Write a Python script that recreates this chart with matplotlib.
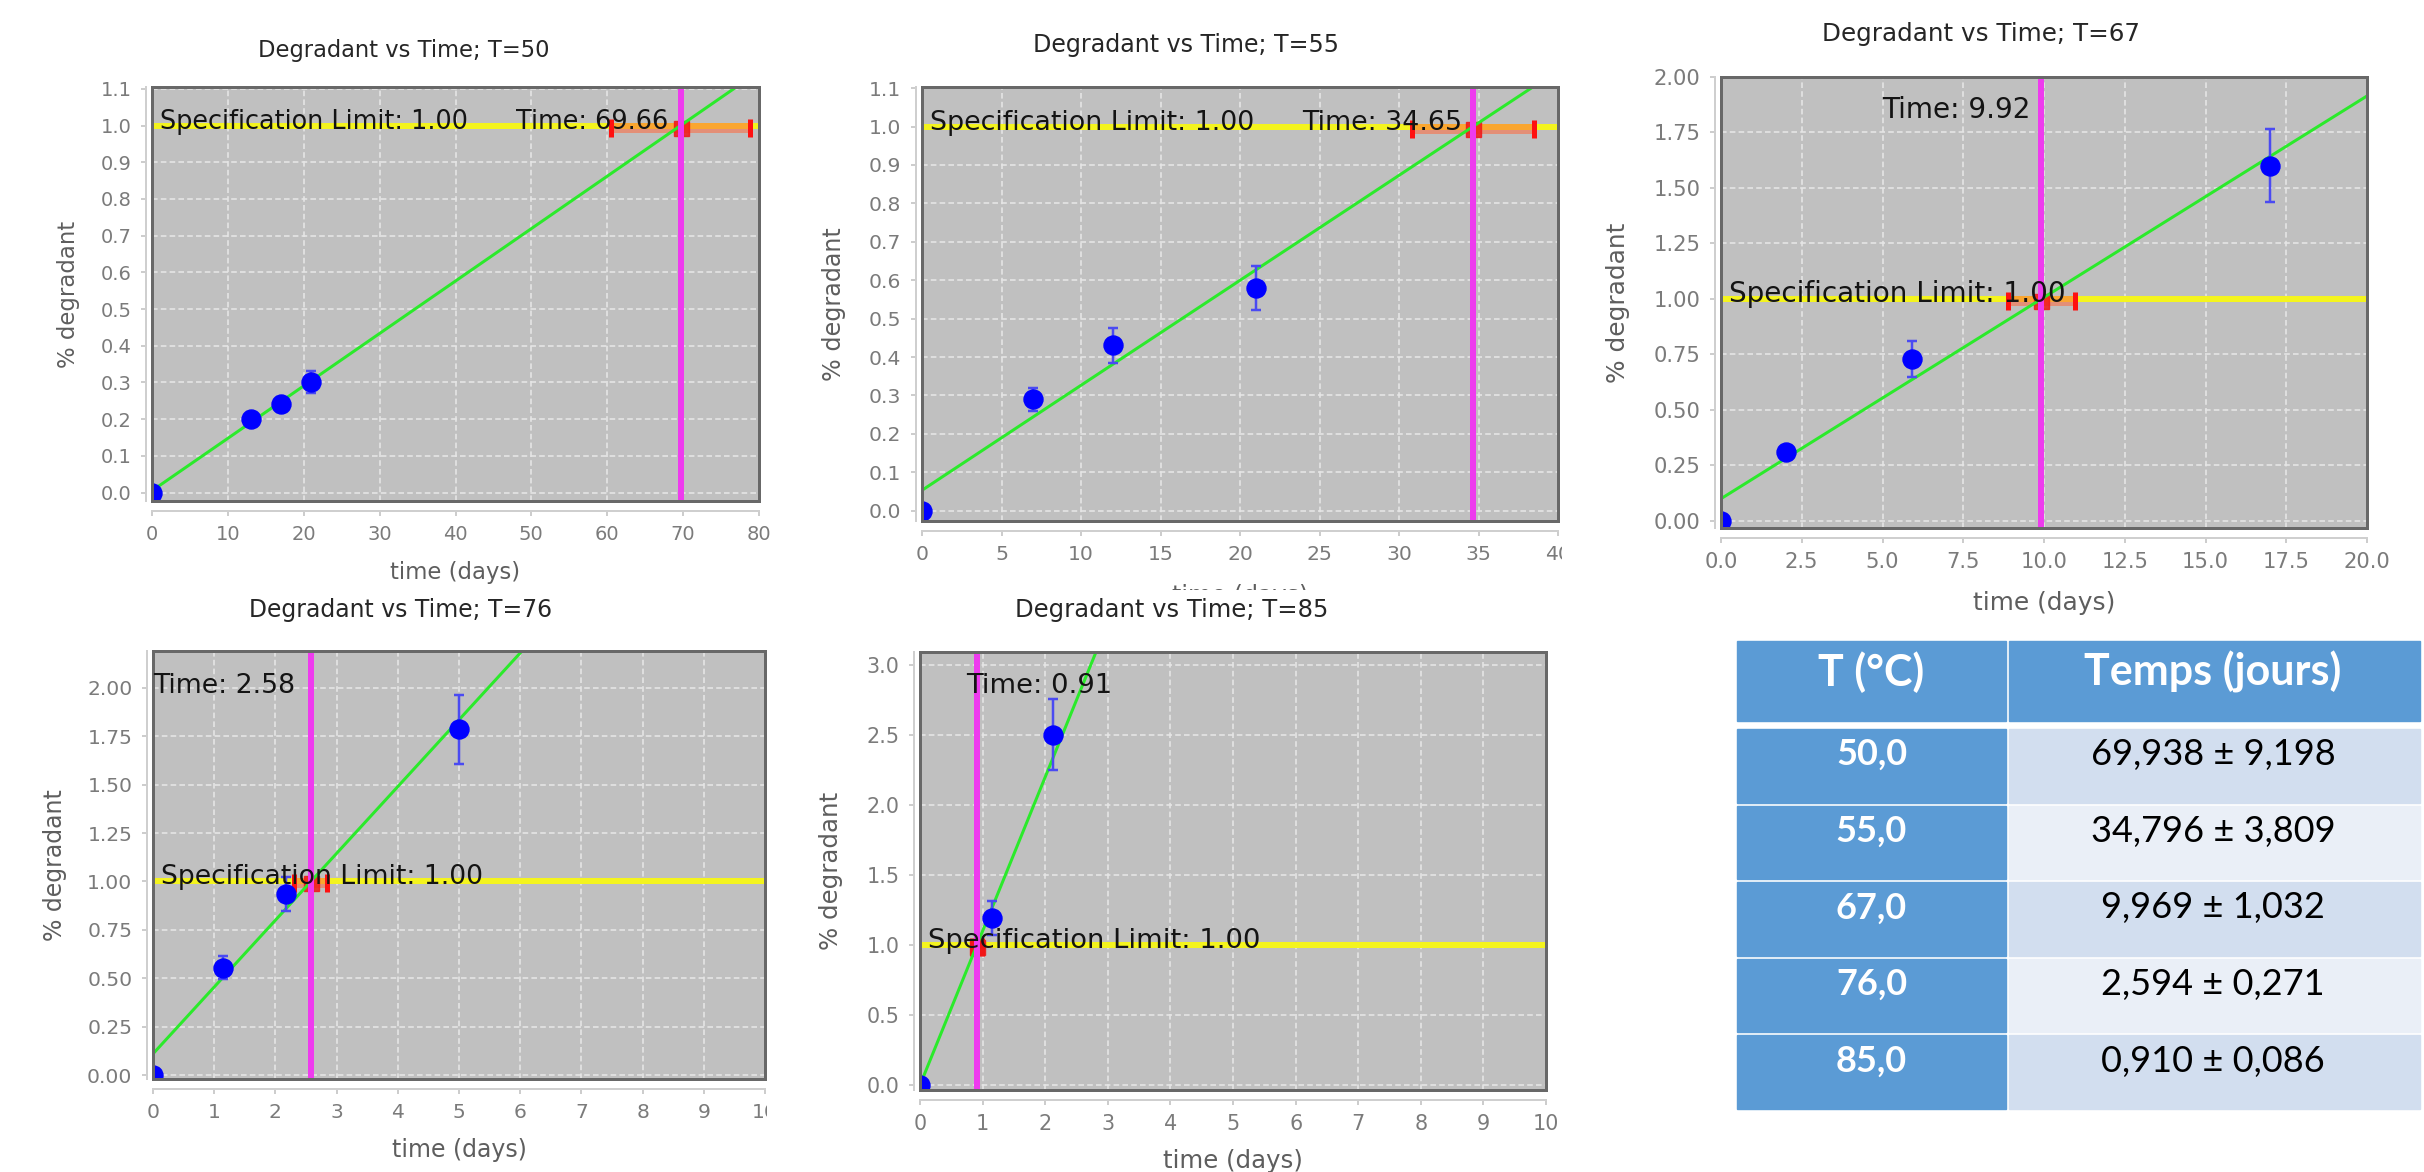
import numpy as np
import matplotlib.pyplot as plt
from matplotlib.patches import Rectangle
from matplotlib.ticker import FormatStrFormatter
from matplotlib.transforms import Bbox, offset_copy

W, H = 2424, 1172
PX = 0.72  # points per pixel (dpi 100)

# ---- values ----
temps = [50, 55, 67, 76, 85]
days = [[0, 13, 17, 21],
        [0, 7, 12, 21],
        [0, 2, 5.9, 17],
        [0, 1.15, 2.17, 5.0],
        [0, 1.15, 2.13]]
degradant = [[0.0, 0.20, 0.24, 0.30],
             [0.0, 0.29, 0.43, 0.58],
             [0.0, 0.31, 0.73, 1.60],
             [0.0, 0.555, 0.935, 1.785],
             [0.0, 1.19, 2.50]]
degradant_err = [[0, 0.02, 0.02, 0.03],
                 [0, 0.03, 0.045, 0.058],
                 [0, 0.02, 0.08, 0.165],
                 [0, 0.06, 0.09, 0.18],
                 [0, 0.12, 0.255]]
fit_intercept = [0.005, 0.053, 0.10, 0.11, 0.0]
spec_limit = 1.0
time_at_limit = [69.66, 34.65, 9.92, 2.58, 0.91]
time_ci = [9.2, 3.81, 1.03, 0.27, 0.086]
x_max = [80, 40, 20, 10, 10]
x_step = [10, 5, 2.5, 1, 1]
y_max = [1.1, 1.1, 2.0, 2.0, 3.0]
y_step = [0.1, 0.1, 0.25, 0.25, 0.5]

tab_temp = [50.0, 55.0, 67.0, 76.0, 85.0]
tab_time = [69.938, 34.796, 9.969, 2.594, 0.910]
tab_err = [9.198, 3.809, 1.032, 0.271, 0.086]

# ---- layout (pixels of the final picture) ----
boxes = [(152, 87, 759, 501), (922, 87, 1558, 521), (1721, 77, 2367, 528),
         (153, 651, 765, 1079), (920, 652, 1546, 1090)]
y_low = [-0.023, -0.027, -0.032, -0.02, -0.035]
y_top = [1.105, 1.103, 2.0, 2.19, 3.09]
xfmt = ['%d', '%d', '%.1f', '%d', '%d']
yfmt = ['%.1f', '%.1f', '%.2f', '%.2f', '%.1f']
fscale = [1.0, 1.05, 1.09, 1.04, 1.07]
title_pos = [(404, 50), (1186, 45), (1981, 34), (401, 610), (1172, 610)]
ylabel_x = [69, 834, 1618, 55, 831]
xlabel_y = [573, 596, 603, 1150, 1161]
time_txt = [(68.0, 1.0, 'right'), (33.98, 1.0, 'right'), (9.59, 1.83, 'right'),
            (0.0, 1.99, 'left'), (0.73, 2.82, 'left')]
xtick_cut = {1: 1562, 3: 767}

fig = plt.figure(figsize=(W / 100, H / 100), dpi=100)
fig.patch.set_facecolor('white')
canvas = fig.add_axes([0, 0, 1, 1])
canvas.set_xlim(0, W)
canvas.set_ylim(H, 0)
canvas.axis('off')

for i in range(5):
    L, T, R, B = boxes[i]
    s = fscale[i]
    ax = fig.add_axes([L / W, 1 - B / H, (R - L) / W, (B - T) / H])
    ax.set_facecolor('#C0C0C0')
    ax.set_xlim(0, x_max[i])
    ax.set_ylim(y_low[i], y_top[i])
    ax.set_xticks(np.arange(0, x_max[i] + 1e-9, x_step[i]))
    ax.set_yticks(np.arange(0, y_max[i] + 1e-9, y_step[i]))
    ax.xaxis.set_major_formatter(FormatStrFormatter(xfmt[i]))
    ax.yaxis.set_major_formatter(FormatStrFormatter(yfmt[i]))
    ax.set_axisbelow(True)
    ax.grid(True, color='#E6E6E6', lw=1.6 * PX, ls=(0, (3.5, 2)))

    for side in ['top', 'right']:
        ax.spines[side].set_visible(False)
    ax.spines['left'].set_position(('outward', 6 * PX))
    ax.spines['bottom'].set_position(('outward', 10 * PX))
    for side in ['left', 'bottom']:
        ax.spines[side].set_color('#CFCFCF')
        ax.spines[side].set_linewidth(2 * PX)
    ax.tick_params(direction='out', length=5 * PX, width=1.5 * PX, color='#BDBDBD',
                   labelsize=14 * s, labelcolor='#7B7B7B', pad=9.5 * PX)

    t = time_at_limit[i]
    ci = time_ci[i]
    a = fit_intercept[i]
    slope = (spec_limit - a) / t
    xs = np.array([0, x_max[i]])

    ax.axhline(spec_limit, color='#F4F41E', lw=6 * PX, zorder=2.5)
    tr = offset_copy(ax.transData, fig=fig, y=-2, units='dots')
    ax.plot([t - ci, t + ci], [spec_limit, spec_limit], color='#FF6A3F', alpha=0.56,
            lw=10 * PX, solid_capstyle='butt', transform=tr, zorder=3)
    ax.plot([t - ci, t + ci], [spec_limit, spec_limit], ls='none', marker='|',
            ms=18 * PX, mew=5 * PX, color='#FF1010', transform=tr, zorder=3.2)
    ax.plot([t], [spec_limit], ls='none', marker='s', ms=15 * PX, color='#F01818',
            alpha=0.85, transform=tr, zorder=3.3)
    ax.plot(xs, a + slope * xs, color='#2BEA2B', lw=3 * PX, zorder=4)
    ax.axvline(t, color='#EE3BEE', lw=6 * PX, zorder=5)

    ax.errorbar(days[i], degradant[i], yerr=degradant_err[i], fmt='none',
                ecolor='#4A4AF2', elinewidth=2.5 * PX, capsize=5 * PX,
                capthick=2.5 * PX, zorder=6)
    ax.plot(days[i], degradant[i], 'o', color='#0000FF', ms=19 * PX, zorder=7)

    ax.add_patch(Rectangle((0, 0), 1, 1, transform=ax.transAxes, fill=False,
                           ec='#686868', lw=3 * PX, zorder=8, clip_on=False))

    ax.annotate('Specification Limit: %.2f' % spec_limit, xy=(0, spec_limit),
                xytext=(8, -3), textcoords='offset pixels', ha='left', va='baseline',
                fontsize=18.4 * s, color='#141414', zorder=10, annotation_clip=False)
    tx, ty, tha = time_txt[i]
    ax.annotate('Time: %.2f' % t, xy=(tx, ty), xytext=(0, -3),
                textcoords='offset pixels', ha=tha, va='baseline',
                fontsize=18.4 * s, color='#141414', zorder=10, annotation_clip=False)

    if i in xtick_cut:
        lab = ax.xaxis.get_major_ticks()[-1].label1
        lab.set_clip_box(Bbox.from_extents(0, 0, xtick_cut[i], H))
        lab.set_clip_on(True)

    tx0, ty0 = title_pos[i]
    canvas.text(tx0, ty0, 'Degradant vs Time; T=%d' % temps[i], ha='center',
                va='center', fontsize=16.3 * s, color='#262626')
    xl = canvas.text((L + R) / 2, xlabel_y[i], 'time (days)', ha='center',
                     va='center', fontsize=16.4 * s, color='#5E5E5E')
    if i == 1:
        xl.set_clip_box(Bbox.from_extents(0, H - 590, W, H))
        xl.set_clip_on(True)
    canvas.text(ylabel_x[i], (T + B) / 2, '% degradant', rotation=90, ha='center',
                va='center', fontsize=16.4 * s, color='#5E5E5E')

# ---- table ----
hdr_color = '#5B9BD5'
row_colors = ['#D2DEEF', '#EAEFF7']
c0, c1, c2 = 1737, 2006, 2420
gap = 3
canvas.add_patch(Rectangle((c0, 641), c1 - c0, 80, color=hdr_color))
canvas.add_patch(Rectangle((c1 + gap, 641), c2 - c1 - gap, 80, color=hdr_color))
canvas.text((c0 + c1) / 2, 672, 'T (°C)', ha='center', va='center', color='white',
            fontsize=31, fontweight='bold', family='Lato')
canvas.text((c1 + c2) / 2, 672, 'Temps (jours)', ha='center', va='center',
            color='white', fontsize=31, fontweight='bold', family='Lato')
for j in range(len(tab_temp)):
    top = 729 + j * 76.6
    h = 73.5
    canvas.add_patch(Rectangle((c0, top), c1 - c0, h, color=hdr_color))
    canvas.add_patch(Rectangle((c1 + gap, top), c2 - c1 - gap, h,
                               color=row_colors[j % 2]))
    yc = top + h / 2 - 11
    canvas.text((c0 + c1) / 2, yc, ('%.1f' % tab_temp[j]).replace('.', ','),
                ha='center', va='center', color='white', fontsize=26,
                fontweight='bold', family='Lato')
    canvas.text((c1 + c2) / 2, yc,
                ('%.3f ± %.3f' % (tab_time[j], tab_err[j])).replace('.', ','),
                ha='center', va='center', color='black', fontsize=26, family='Lato')

fig.savefig('out.png', dpi=100)
